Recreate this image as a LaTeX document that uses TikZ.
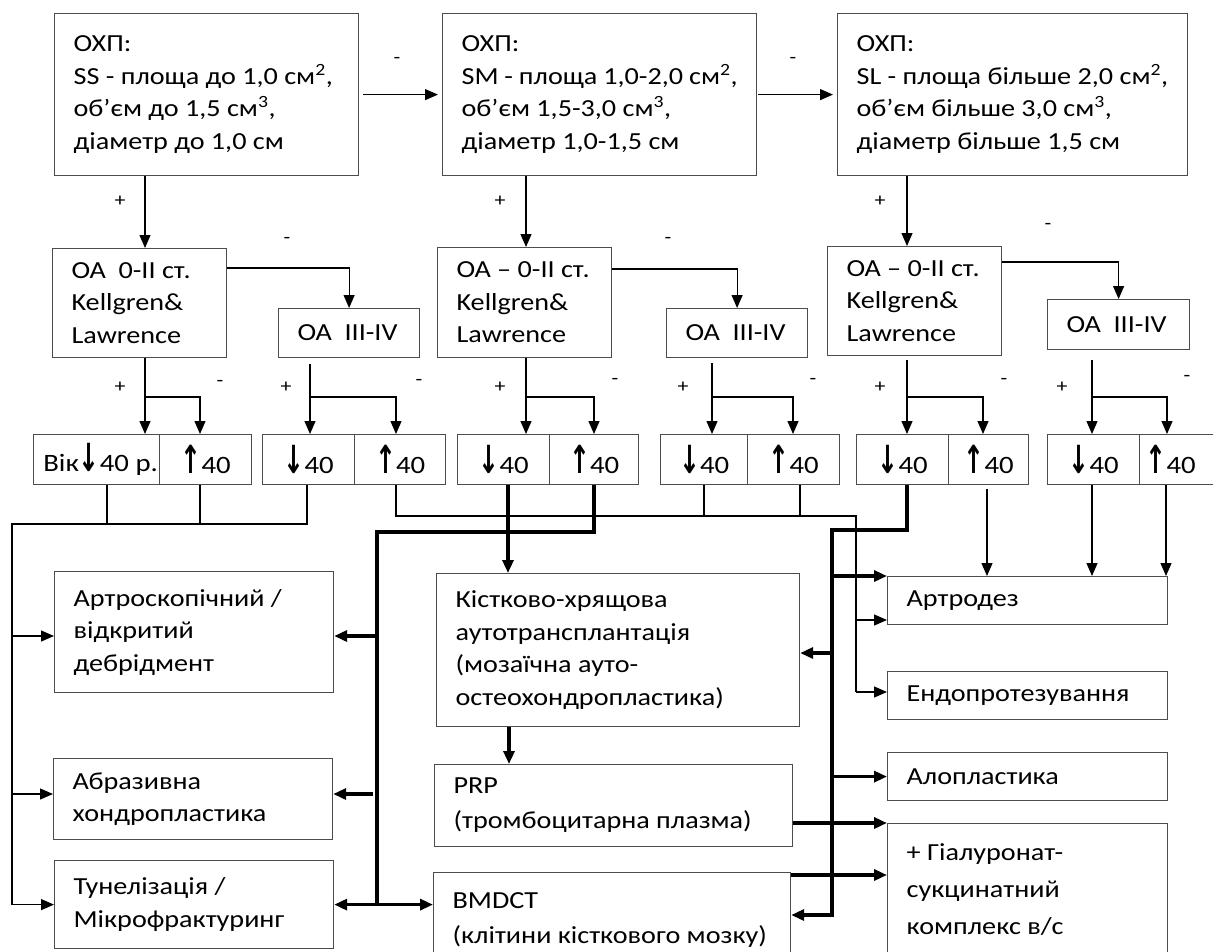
\documentclass[tikz,border=0pt]{standalone}
\usepackage{fontspec}
\setmainfont{Carlito}[FakeStretch=1.15]
\newfontfamily\arrowfont{DejaVu Sans}
\usetikzlibrary{arrows.meta}
\definecolor{boxc}{gray}{0.3}
\newcommand\bodyfont{\fontsize{24.5}{32.5}\selectfont}
\newcommand\pairfont{\fontsize{25}{25}\selectfont}
\newcommand\signfont{\fontsize{19}{19}\selectfont}
\newcommand\arrdn{\scalebox{1}[1.55]{\arrowfont\bfseries ↓}}
\newcommand\arrup{\scalebox{1}[1.55]{\arrowfont\bfseries ↑}}

\begin{document}
\begin{tikzpicture}[x=1pt,y=-1pt,
  box/.style={draw=boxc,line width=1.2pt,anchor=north west,inner xsep=19pt,inner ysep=0pt,align=flush left,font=\bodyfont},
  pair/.style={draw=boxc,line width=1.2pt,anchor=north west,inner sep=0pt,minimum height=50pt,font=\pairfont},
  wire/.style={line width=1.2pt},
  trunk/.style={line width=3.5pt},
  arr/.style={-{Triangle[length=13pt,width=11pt]}},
  sgn/.style={font=\signfont,inner sep=0pt}]
\useasboundingbox (0,0) rectangle (1213,951);
\clip (0,0) rectangle (1213,951);
% defect size
\node[box,text width=266pt,minimum height=162pt] (ss) at (54,13) {ОХП:\\SS - площа до 1,0 см\textsuperscript{2},\\об’єм до 1,5 см\textsuperscript{3},\\діаметр до 1,0 см};
\node[box,text width=276pt,minimum height=162pt] (sm) at (442,13) {ОХП:\\SM - площа 1,0-2,0 см\textsuperscript{2},\\об’єм 1,5-3,0 см\textsuperscript{3},\\діаметр 1,0-1,5 см};
\node[box,text width=312pt,minimum height=162pt] (sl) at (837,13) {ОХП:\\SL - площа більше 2,0 см\textsuperscript{2},\\об’єм більше 3,0 см\textsuperscript{3},\\діаметр більше 1,5 см};
% arthrosis stage
\node[box,text width=136pt,minimum height=109pt] (oa1) at (52,248) {ОА\ \ 0-II ст.\\Kellgren\&\\Lawrence};
\node[box,text width=103pt,minimum height=49pt] (gr1) at (278,308) {ОА\ \ III-IV};
\node[box,text width=136pt,minimum height=110pt] (oa2) at (437,247) {ОА – 0-II ст.\\Kellgren\&\\Lawrence};
\node[box,text width=103pt,minimum height=49pt] (gr2) at (666,308) {ОА\ \ III-IV};
\node[box,text width=136pt,minimum height=109pt] (oa3) at (827,246) {ОА – 0-II ст.\\Kellgren\&\\Lawrence};
\node[box,text width=104pt,minimum height=50pt] (gr3) at (1047,299) {ОА\ \ III-IV};
% age
\node[pair,minimum width=126pt] (y1) at (33,434) {\hspace*{8pt}Вік\arrdn40 р.};
\node[pair,minimum width=92pt] (o1) at (159,434) {\arrup40};
\node[pair,minimum width=92pt] (y2) at (262,434) {\arrdn40};
\node[pair,minimum width=91pt] (o2) at (354,434) {\arrup40};
\node[pair,minimum width=92pt] (y3) at (457,434) {\arrdn40};
\node[pair,minimum width=89pt] (o3) at (549,434) {\arrup40};
\node[pair,minimum width=87pt] (y4) at (660,434) {\arrdn40};
\node[pair,minimum width=92pt] (o4) at (747,434) {\arrup40};
\node[pair,minimum width=92pt] (y5) at (856,434) {\arrdn40};
\node[pair,minimum width=80pt] (o5) at (948,434) {\arrup40};
\node[pair,minimum width=92pt] (y6) at (1047,434) {\arrdn40};
\node[pair,minimum width=92pt,inner xsep=6pt,text width=80pt,align=flush left] (o6) at (1139,434) {\arrup40};
% treatment
\node[box,text width=241pt,minimum height=121pt] (debr) at (54,571) {Артроскопічний /\\відкритий\\дебрідмент};
\node[box,text width=241pt,minimum height=81pt] (abr) at (53,758) {Абразивна\\хондропластика};
\node[box,text width=241pt,minimum height=88pt] (tun) at (54,860) {Тунелізація /\\Мікрофрактуринг};
\node[box,text width=325pt,minimum height=153pt] (mosaic) at (436,573) {Кістково-хрящова\\аутотрансплантація\\(мозаїчна ауто-\\остеохондропластика)};
\node[box,text width=320pt,minimum height=82pt,font=\fontsize{24.5}{35}\selectfont] (prp) at (434,764) {PRP\\(тромбоцитарна плазма)};
\node[box,text width=319pt,minimum height=94pt,font=\fontsize{24.5}{35}\selectfont] (bmdct) at (433,872) {BMDCT\\(клітини кісткового мозку)};
\node[box,text width=242pt,minimum height=48pt] (artr) at (887,576) {Артродез};
\node[box,text width=242pt,minimum height=48pt] (endo) at (887,671) {Ендопротезування};
\node[box,text width=242pt,minimum height=48pt] (allo) at (887,752) {Алопластика};
\node[box,text width=242pt,minimum height=132pt,font=\fontsize{24.5}{37}\selectfont] (hyal) at (887,823) {+ Гіалуронат-\\сукцинатний\\комплекс в/с};
% signs
\node[sgn] (m1) at (397,60) {-};
\node[sgn] (m2) at (793,60) {-};
\node[sgn] (p1) at (120,201) {+};
\node[sgn] (p2) at (500,201) {+};
\node[sgn] (p3) at (880,201) {+};
\node[sgn] (m3) at (287,240) {-};
\node[sgn] (m4) at (668,240) {-};
\node[sgn] (m5) at (1048,226) {-};
\node[sgn] (p4) at (120,387) {+};
\node[sgn] (p5) at (286,387) {+};
\node[sgn] (p6) at (500,387) {+};
\node[sgn] (p7) at (683,387) {+};
\node[sgn] (p8) at (880,387) {+};
\node[sgn] (p9) at (1062,387) {+};
\node[sgn] (m6) at (220,383) {-};
\node[sgn] (m7) at (419,382) {-};
\node[sgn] (m8) at (615,381) {-};
\node[sgn] (m9) at (813,381) {-};
\node[sgn] (m10) at (1004,381) {-};
\node[sgn] (m11) at (1187,378) {-};
% bus corners
\coordinate (busL) at (12,524);
\coordinate (busM) at (856,516);
\coordinate (busT) at (377,532);
\coordinate (busR) at (832,530);
% size and stage
\draw[wire,arr] ([xshift=4pt]ss.east) -- ([xshift=-4pt]sm.west);
\draw[wire,arr] ([xshift=1pt]sm.east) -- ([xshift=-4pt]sl.west);
\draw[wire,arr] (ss.south -| 145,0) -- (oa1.north -| 145,0);
\draw[wire,arr] (sm.south -| 526,0) -- (oa2.north -| 526,0);
\draw[wire,arr] (sl.south -| 907,0) -- (oa3.north -| 907,0);
\draw[wire,arr] (oa1.east |- 0,268) -| (gr1.north);
\draw[wire,arr] (oa2.east |- 0,269) -| (gr2.north);
\draw[wire,arr] (oa3.east |- 0,262) -| (gr3.north);
% age split
\draw[wire,arr] (oa1.south -| 145,0) -- (y1.north -| 145,0);
\draw[wire,arr] (145,397) -| (o1.north -| 200,0);
\draw[wire,arr] ([yshift=-6pt]gr1.south -| 310,0) -- (y2.north -| 310,0);
\draw[wire,arr] (310,397) -| (o2.north -| 396,0);
\draw[wire,arr] (oa2.south -| 526,0) -- (y3.north -| 526,0);
\draw[wire,arr] (526,397) -| (o3.north -| 594,0);
\draw[wire,arr] ([yshift=-5pt]gr2.south -| 712,0) -- (y4.north -| 712,0);
\draw[wire,arr] (712,397) -| (o4.north -| 793,0);
\draw[wire,arr] ([yshift=-4pt]oa3.south -| 907,0) -- (y5.north -| 907,0);
\draw[wire,arr] (907,397) -| (o5.north -| 983,0);
\draw[wire,arr] ([yshift=-10pt]gr3.south -| 1092,0) -- (y6.north -| 1092,0);
\draw[wire,arr] (1092,397) -| (o6.north -| 1167,0);
% left thin bus
\draw[wire] (y1.south -| 107,0) -- (107,0 |- busL);
\draw[wire] (o1.south -| 200,0) -- (200,0 |- busL);
\draw[wire] (y2.south -| 307,0) |- (busL) -- (busL |- tun.west);
\draw[wire,arr] (busL |- 0,636) -- (debr.west |- 0,636);
\draw[wire,arr] (busL |- 0,794) -- (abr.west |- 0,794);
\draw[wire,arr] (busL |- tun.west) -- (tun.west);
% middle thin bus
\draw[wire] (y4.south -| 704,0) -- (704,0 |- busM);
\draw[wire] (o4.south -| 800,0) -- (800,0 |- busM);
\draw[wire] (o2.south -| 396,0) |- (busM) -- (busM |- 0,692);
\draw[wire,arr] (busM |- 0,620) -- (artr.west |- 0,620);
\draw[wire,arr] (busM |- 0,692) -- (endo.west |- 0,692);
% left thick bus
\draw[trunk,arr] (y3.south -| 508,0) -- (mosaic.north -| 508,0);
\draw[trunk,arr] (mosaic.south -| 509,0) -- (prp.north -| 509,0);
\draw[trunk] (o3.south -| 594,0) |- (busT) -- (busT |- tun.east);
\draw[trunk,arr] (busT |- 0,636) -- (debr.east |- 0,636);
\draw[trunk,arr] ([xshift=-4pt]busT |- 0,794) -- (abr.east |- 0,794);
\draw[trunk,arr] (busT |- tun.east) -- (tun.east);
\draw[trunk,arr] (busT |- tun.east) -- (bmdct.west |- tun.east);
% right thick bus
\draw[trunk,arr] (y5.south -| 907,0) |- (busR) |- (bmdct.east |- 0,915);
\draw[trunk,arr] (busR |- artr.north west) -- (artr.north west);
\draw[trunk,arr] (busR |- 0,653) -- (mosaic.east |- 0,653);
\draw[trunk,arr] (busR |- allo.west) -- (allo.west);
\draw[trunk,arr] (prp.east |- hyal.north west) -- (hyal.north west);
\draw[trunk,arr] (bmdct.east |- 0,875) -- (hyal.west |- 0,875);
% to arthrodesis
\draw[wire,arr] ([yshift=-4pt]o5.south -| 987,0) -- (artr.north -| 987,0);
\draw[wire,arr] (y6.south -| 1092,0) -- (artr.north -| 1092,0);
\draw[wire,arr] (o6.south -| 1166,0) -- (artr.north -| 1166,0);
\end{tikzpicture}
\end{document}
